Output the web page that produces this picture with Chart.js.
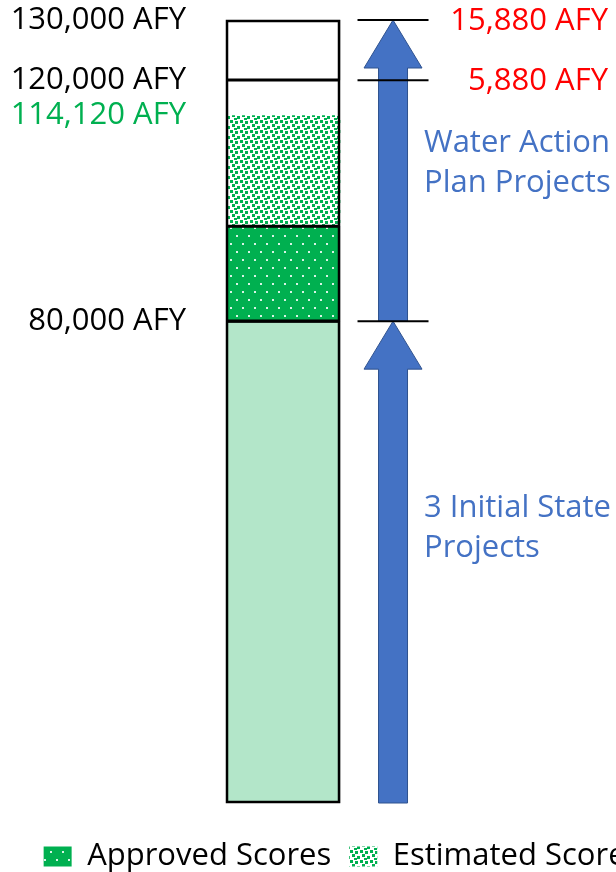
<!DOCTYPE html>
<html>
<head>
<meta charset="utf-8">
<script src="https://cdn.jsdelivr.net/npm/chart.js@4.4.1/dist/chart.umd.min.js"></script>
<style>
  html, body { margin:0; padding:0; background:#fff; overflow:hidden; }
  #wrap { width:684px; height:872px; }
</style>
</head>
<body>
<div id="wrap"><canvas id="supplyChart" width="684" height="872"></canvas></div>
<script>
// Valores em AFY
const segmentLabels = ['3 Initial State Projects', 'Approved Scores', 'Estimated Scores', 'Remaining to 120,000', '120,000 to 130,000'];
const segmentValues = [80000, 15800, 18320, 5880, 10000];
const tickValues = [80000, 114120, 120000, 130000];
const arrowStarts = [0, 80000];
const arrowEnds = [80000, 130000];
const arrowTexts = [['3 Initial State', 'Projects'], ['Water Action', 'Plan Projects']];
const markerValues = [130000, 120000, 80000];
const gapValues = [130000, 120000];
const gapLabels = ['15,880 AFY', '5,880 AFY'];

Chart.defaults.font.family = "'Open Sans', sans-serif";

// padrões de preenchimento (pontilhados)
function makePattern(w, h, bg, dot, dots, size) {
  const c = document.createElement('canvas');
  c.width = w; c.height = h;
  const g = c.getContext('2d');
  g.fillStyle = bg; g.fillRect(0, 0, w, h);
  g.fillStyle = dot;
  dots.forEach(d => g.fillRect(d[0], d[1], size[0], size[1]));
  return g.createPattern(c, 'repeat');
}
const ctx = document.getElementById('supplyChart').getContext('2d');
const approvedFill = makePattern(12, 16, '#00b050', 'rgba(255,255,255,0.85)', [[2, 3], [8, 11]], [2, 2]);
const estimatedFill = makePattern(10, 10, '#ffffff', '#00b050',
  [[0, 0], [5, 1], [2, 4], [7, 6], [4, 8]], [3, 3]);

const segColors = ['#b3e6c9', approvedFill, estimatedFill, '#ffffff', '#ffffff'];
const segBorders = [2, 2, 0, 0, 2];

const extras = {
  id: 'extras',
  afterLayout(chart) {
    // desce um pouco a legenda
    chart.legend.top += 20;
    chart.legend.bottom += 20;
  },
  afterDatasetsDraw(chart) {
    const c = chart.ctx, x = chart.scales.x, y = chart.scales.y;
    const bar = chart.getDatasetMeta(0).data[0];
    const half = bar.width / 2;
    const top = y.getPixelForValue(130000), bottom = y.getPixelForValue(0);
    c.save();
    // contorno da barra e divisões
    c.strokeStyle = '#000'; c.lineWidth = 2.5;
    c.strokeRect(bar.x - half + 1, top + 1, 2 * half - 2, bottom - top - 2);
    const splits = [80000, segmentValues[0] + segmentValues[1], 120000];
    splits.forEach(v => {
      const py = y.getPixelForValue(v);
      c.beginPath(); c.moveTo(bar.x - half, py); c.lineTo(bar.x + half, py); c.stroke();
    });
    // setas
    const ax = x.getPixelForValue(1);
    const textFrac = [0.43, 0.475];
    arrowStarts.forEach((s, i) => {
      const yb = y.getPixelForValue(s), yt = y.getPixelForValue(arrowEnds[i]);
      c.beginPath();
      c.moveTo(ax - 14.5, yb); c.lineTo(ax - 14.5, yt + 48); c.lineTo(ax - 29, yt + 48);
      c.lineTo(ax, yt); c.lineTo(ax + 29, yt + 48); c.lineTo(ax + 14.5, yt + 48);
      c.lineTo(ax + 14.5, yb); c.closePath();
      c.fillStyle = '#4472c4'; c.fill();
      c.strokeStyle = '#2f528f'; c.lineWidth = 1; c.stroke();
      c.fillStyle = '#4472c4';
      c.font = "31px 'Open Sans'";
      c.textAlign = 'left'; c.textBaseline = 'middle';
      const mid = yt + (yb - yt) * textFrac[i];
      arrowTexts[i].forEach((t, k) => c.fillText(t, ax + 31, mid - 20 + k * 40));
    });
    // linhas de referência
    c.strokeStyle = '#000'; c.lineWidth = 2;
    markerValues.forEach(v => {
      const py = y.getPixelForValue(v);
      c.beginPath(); c.moveTo(ax - 35.5, py); c.lineTo(ax + 35.5, py); c.stroke();
    });
    c.fillStyle = '#ff0000';
    c.textAlign = 'right'; c.textBaseline = 'middle';
    c.font = "31px 'Open Sans'";
    gapValues.forEach((v, i) => c.fillText(gapLabels[i], 608, y.getPixelForValue(v) + 1));
    c.restore();
  }
};

new Chart(ctx, {
  type: 'bar',
  data: {
    datasets: segmentValues.map((v, i) => ({
      label: segmentLabels[i],
      data: [{x: 0, y: v}],
      backgroundColor: segColors[i],
      borderColor: '#000',
      borderWidth: segBorders[i],
      borderSkipped: false,
      barThickness: 114
    }))
  },
  options: {
    responsive: false,
    animation: false,
    layout: {padding: {top: 20, bottom: 10, left: 0, right: 0}},
    scales: {
      x: {type: 'linear', offset: false, min: -0.5, max: 3.645, display: false, stacked: true},
      y: {
        stacked: true, min: 0, max: 130000,
        border: {display: false},
        grid: {display: false, drawTicks: false},
        afterBuildTicks: s => { s.ticks = tickValues.map(v => ({value: v})); },
        afterFit: s => { s.width = 228; s.paddingTop = 0; s.paddingBottom = 0; },
        ticks: {
          padding: 42, autoSkip: false,
          font: {size: 31},
          color: c => (c.tick && c.tick.value === 114120) ? '#00b050' : '#000',
          callback: v => v.toLocaleString('en-US') + ' AFY'
        }
      }
    },
    plugins: {
      tooltip: {enabled: false},
      legend: {
        position: 'bottom',
        labels: {
          color: '#000', font: {size: 31}, boxWidth: 28, boxHeight: 20, padding: 18,
          filter: item => item.datasetIndex === 1 || item.datasetIndex === 2,
          generateLabels: chart => Chart.defaults.plugins.legend.labels.generateLabels(chart)
            .map(l => Object.assign(l, {lineWidth: 0, strokeStyle: 'rgba(0,0,0,0)'}))
        }
      }
    }
  },
  plugins: [extras]
});
</script>
</body>
</html>
